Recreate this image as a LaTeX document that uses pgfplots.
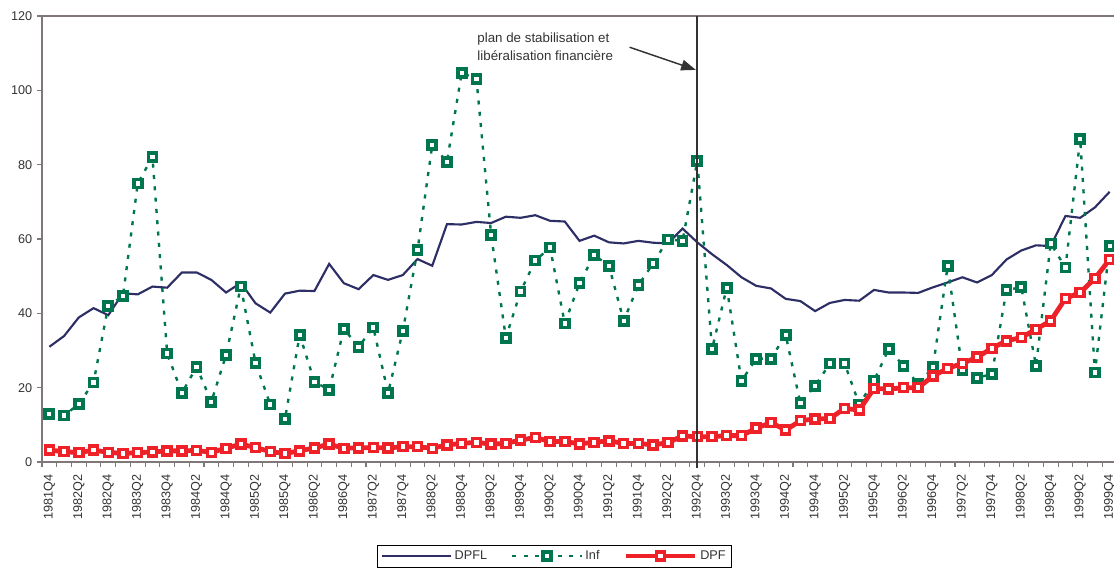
\documentclass[border=0pt]{standalone}
\usepackage{pgfplots}
\pgfplotsset{compat=1.18}
\usepackage{pgfplotstable}
\usepackage{fontspec}
\setmainfont{Liberation Sans}
\usetikzlibrary{arrows.meta}

\definecolor{dpfl}{RGB}{46,46,102}
\definecolor{inf}{RGB}{0,118,78}
\definecolor{dpf}{RGB}{238,32,40}
\definecolor{axgray}{RGB}{128,120,120}
\definecolor{txt}{RGB}{51,51,51}

\pgfplotsset{
  legline/.style={legend image code/.code={\draw[##1] (0pt,0pt) -- (52pt,0pt);}},
  legmark/.style={legend image code/.code={\draw[mark repeat=2,mark phase=2,##1] plot coordinates {(0pt,0pt) (26pt,0pt) (52pt,0pt)};}},
}

% idx: 0 = 1981Q4, one row per quarter
\pgfplotstableread{
idx dpfl inf dpf
0 31.0 12.9 3.2
1 33.9 12.5 2.8
2 38.9 15.6 2.5
3 41.4 21.4 3.2
4 39.5 42.0 2.6
5 45.4 44.7 2.3
6 45.1 74.9 2.5
7 47.2 82.1 2.7
8 46.9 29.2 3.0
9 51.0 18.6 3.0
10 51.0 25.6 3.1
11 49.0 16.2 2.6
12 45.6 28.8 3.7
13 48.2 47.2 4.8
14 42.7 26.7 3.9
15 40.2 15.5 2.8
16 45.3 11.6 2.3
17 46.1 34.2 3.0
18 46.0 21.6 3.8
19 53.3 19.4 4.8
20 48.1 35.8 3.7
21 46.5 31.0 3.8
22 50.3 36.2 3.9
23 49.0 18.6 3.8
24 50.3 35.2 4.1
25 54.6 57.0 4.1
26 52.8 85.3 3.7
27 64.0 80.8 4.6
28 63.9 104.7 5.0
29 64.6 103.1 5.3
30 64.3 61.1 4.8
31 66.0 33.4 5.0
32 65.7 45.9 5.9
33 66.4 54.2 6.6
34 64.9 57.7 5.5
35 64.7 37.3 5.5
36 59.5 48.1 4.9
37 60.9 55.7 5.3
38 59.1 52.8 5.7
39 58.8 38.0 5.0
40 59.5 47.6 5.0
41 59.0 53.4 4.6
42 58.8 59.9 5.2
43 62.8 59.5 7.0
44 59.1 81.0 6.8
45 55.9 30.4 6.8
46 53.0 46.9 7.1
47 49.7 21.8 7.1
48 47.4 27.8 9.1
49 46.7 27.8 10.6
50 43.9 34.2 8.6
51 43.3 15.8 11.1
52 40.6 20.5 11.6
53 42.8 26.5 11.7
54 43.6 26.5 14.4
55 43.4 15.5 14.0
56 46.3 21.9 19.8
57 45.6 30.4 19.6
58 45.6 25.9 20.0
59 45.5 20.9 20.0
60 47.0 25.5 23.1
61 48.3 52.7 25.2
62 49.7 24.8 26.5
63 48.3 22.7 28.2
64 50.3 23.6 30.6
65 54.5 46.3 32.6
66 56.9 47.0 33.5
67 58.3 25.9 35.7
68 58.1 58.8 38.0
69 66.2 52.3 44.0
70 65.7 86.9 45.6
71 68.5 24.1 49.4
72 72.7 58.1 54.5
}\data

\begin{document}
\begin{tikzpicture}
\begin{axis}[
  at={(0,0)}, anchor=south west,
  scale only axis,
  width=806.25pt, height=334.5pt,
  xmin=-0.5, xmax=72.5,
  ymin=0, ymax=120,
  ytick={0,20,...,120},
  xtick={-0.5,0.5,...,72.5},
  xticklabels={},
  extra x ticks={0,2,...,72},
  extra x tick labels={1981Q4,1982Q2,1982Q4,1983Q2,1983Q4,1984Q2,1984Q4,1985Q2,1985Q4,1986Q2,1986Q4,1987Q2,1987Q4,1988Q2,1988Q4,1989Q2,1989Q4,1990Q2,1990Q4,1991Q2,1991Q4,1992Q2,1992Q4,1993Q2,1993Q4,1994Q2,1994Q4,1995Q2,1995Q4,1996Q2,1996Q4,1997Q2,1997Q4,1998Q2,1998Q4,1999Q2,1999Q4},
  extra x tick style={major tick length=0pt, grid=none,
    xticklabel style={rotate=90, anchor=east}},
  xtick pos=bottom, ytick pos=left,
  tick align=outside,
  major tick length=3.75pt,
  tick style={axgray, line width=0.8pt},
  axis line style={axgray, line width=1.1pt},
  ticklabel style={font=\fontsize{9.5}{11}\selectfont, text=txt},
  xticklabel shift=6pt,
  /pgf/number format/assume math mode=true,
  legend columns=3,
  legend style={at={(0.4767,-0.2108)}, anchor=center, draw=black, line width=0.6pt,
    font=\fontsize{9.5}{11}\selectfont, text=txt, inner sep=2pt,
    /tikz/every even column/.append style={column sep=16pt}},
  clip mode=individual,
]
\addplot[dpfl, line width=1.6pt, no marks, legline]
  table[x=idx, y=dpfl] {\data};
\addlegendentry{DPFL}
\addplot[inf, line width=1.8pt, dash pattern=on 3pt off 5.5pt,
  mark=square*, mark size=3pt,
  mark options={solid, draw=inf, fill=white, line width=2.8pt}, legmark]
  table[x=idx, y=inf] {\data};
\addlegendentry{Inf}
\addplot[dpf, line width=3.6pt,
  mark=square*, mark size=3pt,
  mark options={solid, draw=dpf, fill=white, line width=2.6pt}, legmark]
  table[x=idx, y=dpf] {\data};
\addlegendentry{DPF}
\draw[txt, line width=1.5pt] (axis cs:44,-1.5) -- (axis cs:44,120);
\node[anchor=north west, align=left, text=txt, font=\fontsize{10}{13.5}\selectfont, inner sep=0pt]
  at (axis cs:29.05,115.6) {plan de stabilisation et\\lib\'eralisation financi\`ere};
\draw[txt, line width=1.1pt, -{Triangle[length=11pt,width=8pt]}]
  (axis cs:39.4,111.6) -- (axis cs:43.9,105.5);
\end{axis}
\pgfresetboundingbox
\path[use as bounding box] (-31.5pt,-79.5pt) rectangle (804pt,346.5pt);
\end{tikzpicture}
\end{document}
